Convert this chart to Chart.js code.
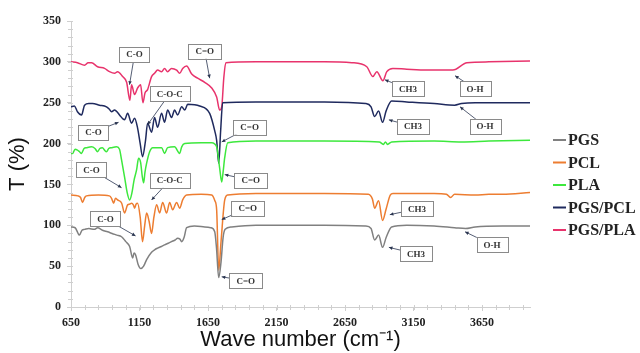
<!DOCTYPE html>
<html>
<head>
<meta charset="utf-8">
<title>FTIR</title>
<script src="https://cdn.jsdelivr.net/npm/chart.js@4.4.1/dist/chart.umd.min.js"></script>
<style>
  body { margin: 0; background: #fff; }
  #wrap { width: 640px; height: 353px; }
</style>
</head>
<body>
<div id="wrap"><canvas id="ftir"></canvas></div>
<script>
// series names + colours
var seriesNames = ['PGS', 'PCL', 'PLA', 'PGS/PCL', 'PGS/PLA'];
var seriesColors = ['#808080', '#ed7d31', '#3de83d', '#1f2a5e', '#e8336c'];

// PGS
var pgsWave = [650,680,712,730,749,780,820,844,880,917,950,985,1019,1050,1078,1100,1110,1121,1140,1160,1180,1202,1238,1260,1282,1310,1333,1360,1384,1410,1428,1445,1458,1475,1494,1550,1626,1670,1699,1712,1728,1745,1760,1775,1823,2000,2500,2800,2840,2866,2895,2924,2950,2990,3100,3300,3450,3530,3600,3800,4000];
var pgsT    = [98,97,88,94,95,96,95,97,94,92,90,88,86,80,74,60,66,64,52,47,50,58,67,70,72,74,76,78,80,82,84,83,80,85,97,99,98,97,92,72,36,55,85,95,98,100,100,99,96,82,88,73,85,98,100,99,97,96,98,99,99];

// PCL
var pclWave = [650,700,720,734,750,763,850,930,946,961,975,990,1020,1041,1063,1080,1092,1105,1114,1125,1136,1155,1172,1188,1202,1220,1238,1255,1275,1297,1319,1348,1370,1392,1421,1443,1465,1494,1600,1677,1700,1713,1728,1745,1772,1794,2000,2500,2820,2850,2866,2895,2924,2950,2980,3000,3300,3390,3420,3450,3600,3700,3800,4000];
var pclT    = [137,136,134,128,134,136,137,136,133,127,133,131,127,115,125,126,127,125,121,126,127,110,80,100,115,105,90,110,125,115,128,115,128,119,128,121,131,137,138,137,130,119,45,80,131,137,139,139,138,132,121,130,106,120,137,139,139,138,134,138,137,138,138,140];

// PLA
var plaWave = [650,661,680,697,712,727,745,763,800,825,844,860,880,895,909,925,946,983,1004,1019,1041,1060,1078,1095,1110,1129,1143,1158,1170,1180,1190,1202,1224,1246,1311,1333,1355,1406,1443,1458,1480,1600,1677,1713,1735,1750,1760,1772,1794,2000,2500,2900,2930,2945,2960,2990,3300,3500,3700,4000];
var plaT    = [188,188,193,192,190,188,194,195,196,194,190,194,195,192,190,194,195,196,193,180,159,140,131,140,155,168,182,177,160,152,165,176,190,195,195,188,195,196,188,196,200,201,201,196,170,153,165,183,201,203,203,202,199,202,199,202,203,202,203,204];

// PGS/PCL
var pgsPclWave = [650,675,697,727,749,780,807,858,909,930,946,968,990,1004,1041,1063,1092,1114,1136,1155,1172,1194,1209,1238,1260,1282,1311,1333,1355,1384,1406,1428,1458,1480,1502,1589,1662,1700,1713,1728,1742,1757,2000,2500,2800,2840,2866,2895,2924,2950,2990,3100,3300,3450,3500,3600,4000];
var pgsPclT    = [245,246,239,235,247,249,249,247,245,242,239,241,238,235,229,237,225,231,219,200,184,204,225,214,232,220,237,226,241,232,241,235,245,241,248,246,237,215,204,176,215,250,251,251,249,245,233,240,226,240,252,251,249,247,249,250,250];

// PGS/PLA
var pgsPlaWave = [650,697,749,775,800,844,895,931,968,990,1027,1056,1080,1092,1114,1136,1158,1175,1190,1209,1238,1260,1282,1311,1333,1355,1384,1421,1443,1465,1494,1531,1574,1626,1677,1713,1735,1750,1765,1780,2000,2500,2700,2809,2853,2882,2926,2955,2999,3101,3250,3437,3540,3700,4000];
var pgsPlaT    = [300,299,296,299,299,294,292,288,286,288,282,275,253,272,260,268,272,250,262,266,282,286,290,288,292,288,292,290,286,292,295,285,280,275,268,257,241,245,280,299,300,300,299,294,282,288,277,288,292,291,290,290,299,300,301];

// tick labels
var xTicks = [650, 1150, 1650, 2150, 2650, 3150, 3650];
var yTicks = [0, 50, 100, 150, 200, 250, 300, 350];

// peak labels: text, box (wave, T), arrow tip (wave, T)
var peakText = ['C-O','C=O','CH3','O-H', 'C-O','C-O-C','C=O','CH3','O-H', 'C-O','C-O-C','C=O', 'C=O','CH3', 'C-O','C=O','CH3','O-H'];
var peakBoxWave = [1114,1626,3109,3599, 814,1370,1954,3146,3672, 800,1370,1962, 1940,3175, 902,1925,3168,3723];
var peakBoxT    = [309,313,267,267, 214,261,220,221,221, 168,155,155, 121,120, 108,32,65,76];
var peakTipWave = [1077,1662,2941,3453, 997,1209,1750,2970,3489, 1019,1238,1772, 1750,2977, 1121,1750,2970,3526];
var peakTipT    = [272,280,278,283, 226,223,202,229,245, 146,131,162, 107,113, 87,37,73,92];

function pairs(w, t) {
  var out = [];
  for (var i = 0; i < w.length; i++) out.push({x: w[i], y: t[i]});
  return out;
}

var allWave = [pgsWave, pclWave, plaWave, pgsPclWave, pgsPlaWave];
var allT = [pgsT, pclT, plaT, pgsPclT, pgsPlaT];
var datasets = [];
for (var s = 0; s < seriesNames.length; s++) {
  datasets.push({
    label: seriesNames[s],
    data: pairs(allWave[s], allT[s]),
    borderColor: seriesColors[s],
    backgroundColor: seriesColors[s],
    borderWidth: 1.5,
    pointRadius: 0,
    cubicInterpolationMode: 'monotone'
  });
}

var extras = {
  id: 'extras',
  afterDraw: function(chart) {
    var ctx = chart.ctx, xs = chart.scales.x, ys = chart.scales.y;
    var area = chart.chartArea;
    ctx.save();
    // minor ticks
    ctx.strokeStyle = '#cfcfcf';
    ctx.lineWidth = 1;
    ctx.beginPath();
    for (var v = 0; v <= 350; v += 10) {
      var py = Math.round(ys.getPixelForValue(v)) + 0.5;
      ctx.moveTo(area.left - 3, py); ctx.lineTo(area.left + 2, py);
    }
    for (var w = 650; w <= 4000; w += 100) {
      var px = Math.round(xs.getPixelForValue(w)) + 0.5;
      ctx.moveTo(px, area.bottom - 2); ctx.lineTo(px, area.bottom + 3);
    }
    ctx.stroke();

    // peak labels
    ctx.font = 'bold 9px "Liberation Serif", serif';
    ctx.textAlign = 'center';
    ctx.textBaseline = 'middle';
    for (var i = 0; i < peakText.length; i++) {
      var bx = xs.getPixelForValue(peakBoxWave[i]);
      var by = ys.getPixelForValue(peakBoxT[i]);
      var tx = xs.getPixelForValue(peakTipWave[i]);
      var ty = ys.getPixelForValue(peakTipT[i]);
      var bw = ctx.measureText(peakText[i]).width + 14, bh = 15;
      ctx.strokeStyle = '#2a3550';
      ctx.lineWidth = 0.8;
      ctx.beginPath(); ctx.moveTo(bx, by); ctx.lineTo(tx, ty); ctx.stroke();
      var ang = Math.atan2(ty - by, tx - bx);
      ctx.fillStyle = '#2a3550';
      ctx.beginPath();
      ctx.moveTo(tx, ty);
      ctx.lineTo(tx - 4 * Math.cos(ang - 0.45), ty - 4 * Math.sin(ang - 0.45));
      ctx.lineTo(tx - 4 * Math.cos(ang + 0.45), ty - 4 * Math.sin(ang + 0.45));
      ctx.closePath(); ctx.fill();
      ctx.fillStyle = '#fff';
      ctx.fillRect(bx - bw / 2, by - bh / 2, bw, bh);
      ctx.strokeStyle = '#8a8a8a';
      ctx.lineWidth = 1;
      ctx.strokeRect(Math.round(bx - bw / 2) + 0.5, Math.round(by - bh / 2) + 0.5, Math.round(bw), bh);
      ctx.fillStyle = '#333';
      ctx.fillText(peakText[i], bx, by + 0.5);
    }

    // legend
    ctx.font = 'bold 16px "Liberation Serif", serif';
    ctx.textAlign = 'left';
    var lx = area.right + 23, ly = 140;
    for (var k = 0; k < seriesNames.length; k++) {
      var yy = ly + k * 22.5;
      ctx.strokeStyle = seriesColors[k];
      ctx.lineWidth = 2;
      ctx.beginPath(); ctx.moveTo(lx, yy); ctx.lineTo(lx + 13, yy); ctx.stroke();
      ctx.fillStyle = '#222';
      ctx.fillText(seriesNames[k], lx + 15, yy + 1);
    }
    ctx.restore();
  }
};

var tickFont = { family: '"Liberation Serif", serif', size: 12, weight: 'bold' };
function plain(v) { return String(v); }

var config = {
  type: 'line',
  data: { datasets: datasets },
  options: {
    responsive: true,
    maintainAspectRatio: false,
    animation: false,
    layout: { padding: { left: 0, right: 110, top: 21, bottom: 0 } },
    plugins: { legend: { display: false }, tooltip: { enabled: false } },
    scales: {
      x: {
        type: 'linear',
        min: 650,
        max: 4000,
        afterBuildTicks: function(scale) {
          scale.ticks = xTicks.map(function(v) { return { value: v }; });
        },
        afterFit: function(scale) { scale.height = 46; },
        grid: { drawOnChartArea: false, drawTicks: true, tickLength: 4, color: '#cfcfcf' },
        border: { color: '#cfcfcf' },
        ticks: { font: tickFont, color: '#222', padding: 5, maxRotation: 0, autoSkip: false, callback: plain },
        title: {
          display: true,
          text: 'Wave number (cm\u207B\u00B9)',
          font: { family: '"Liberation Sans", Arial, sans-serif', size: 22 },
          color: '#111',
          padding: { top: 0, bottom: 0 }
        }
      },
      y: {
        min: 0,
        max: 350,
        afterBuildTicks: function(scale) {
          scale.ticks = yTicks.map(function(v) { return { value: v }; });
        },
        afterFit: function(scale) { scale.width = 71; },
        grid: { drawOnChartArea: false, drawTicks: true, tickLength: 4, color: '#cfcfcf' },
        border: { color: '#cfcfcf' },
        ticks: { font: tickFont, color: '#222', padding: 6, callback: plain },
        title: {
          display: true,
          text: 'T (%)',
          font: { family: '"Liberation Sans", Arial, sans-serif', size: 22 },
          color: '#111',
          padding: { top: 5, bottom: 0 }
        }
      }
    }
  },
  plugins: [extras]
};

var ctx = document.getElementById('ftir').getContext('2d');
window.ftirChart = new Chart(ctx, config);
</script>
</body>
</html>
